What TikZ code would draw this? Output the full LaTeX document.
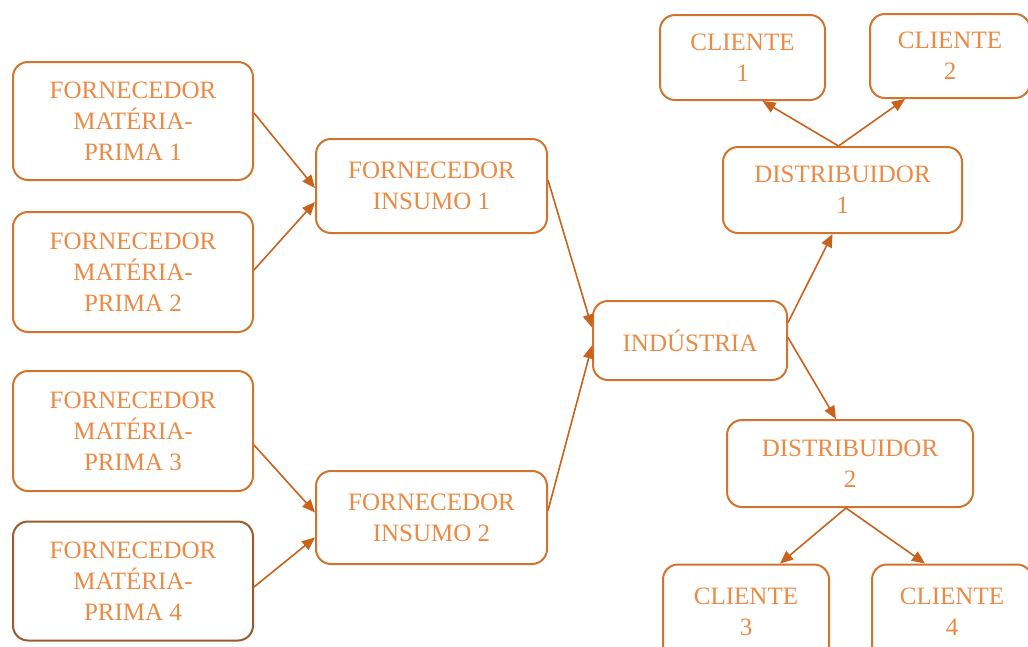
\documentclass[tikz,border=0pt]{standalone}
\usepackage{fontspec}
\setmainfont{Liberation Serif}
\usetikzlibrary{arrows.meta, positioning}

\definecolor{borda}{HTML}{D2742E}
\definecolor{bordaescura}{HTML}{9A5B30}
\definecolor{texto}{HTML}{EA8A44}
\definecolor{seta}{HTML}{C8621C}

\tikzset{
	caixa/.style={draw=borda, line width=2pt, rounded corners=15pt, text=texto,
		align=center, inner sep=0pt, font=\fontsize{25}{31}\selectfont},
	fluxo/.style={draw=seta, line width=1.6pt, -{Triangle[length=13pt,width=11pt]}}
}

\begin{document}
\begin{tikzpicture}[x=1pt, y=-1pt]
		\useasboundingbox (0,0) rectangle (1028,646);

		% Fornecedores de materia-prima
		\node[caixa, minimum width=240, minimum height=118] (fmp1) at (133,121) {FORNECEDOR\\MATÉRIA-\\PRIMA 1};
		\node[caixa, minimum width=240, minimum height=120] (fmp2) at (133,272) {FORNECEDOR\\MATÉRIA-\\PRIMA 2};
		\node[caixa, minimum width=240, minimum height=120] (fmp3) at (133,431) {FORNECEDOR\\MATÉRIA-\\PRIMA 3};
		\node[caixa, draw=bordaescura, minimum width=240, minimum height=119] (fmp4) at (133,581) {FORNECEDOR\\MATÉRIA-\\PRIMA 4};

		% Fornecedores de insumo
		\node[caixa, minimum width=231, minimum height=94] (fi1) at (431.5,186) {FORNECEDOR\\INSUMO 1};
		\node[caixa, minimum width=231, minimum height=93] (fi2) at (431.5,517.5) {FORNECEDOR\\INSUMO 2};

		\node[caixa, minimum width=194, minimum height=79] (ind) at (690,340.5) {INDÚSTRIA};

		% Distribuidores e clientes
		\node[caixa, minimum width=239, minimum height=86] (dist1) at (842.5,190) {DISTRIBUIDOR\\1};
		\node[caixa, minimum width=246, minimum height=87] (dist2) at (850,463.5) {DISTRIBUIDOR\\2};
		\node[caixa, minimum width=165, minimum height=85] (cl1) at (742.5,57.5) {CLIENTE\\1};
		\node[caixa, minimum width=160, minimum height=84] (cl2) at (950,56) {CLIENTE\\2};
		\node[caixa, minimum width=166, minimum height=95] (cl3) at (746,612) {CLIENTE\\3};
		\node[caixa, minimum width=160, minimum height=95] (cl4) at (952,612) {CLIENTE\\4};

		\draw[fluxo] ([yshift=8]fmp1.east) -- ([yshift=-2]fi1.west);
		\draw[fluxo] ([yshift=2]fmp2.east) -- ([yshift=-16]fi1.west);
		\draw[fluxo] ([yshift=-14]fmp3.east) -- ([yshift=5]fi2.west);
		\draw[fluxo] ([yshift=-6]fmp4.east) -- ([yshift=-20]fi2.west);

		\draw[fluxo] ([yshift=6]fi1.east) -- ([yshift=13]ind.west);
		\draw[fluxo] ([yshift=7]fi2.east) -- ([yshift=-5]ind.west);

		\draw[fluxo] ([yshift=18]ind.east) -- ([xshift=-10]dist1.south);
		\draw[fluxo] ([yshift=3]ind.east) -- ([xshift=-14]dist2.north);

		\draw[fluxo] ([xshift=-4]dist1.north) -- ([xshift=20]cl1.south);
		\draw[fluxo] ([xshift=-4]dist1.north) -- ([xshift=-45]cl2.south);
		\draw[fluxo] ([xshift=-4]dist2.south) -- ([xshift=34]cl3.north);
		\draw[fluxo] ([xshift=-4]dist2.south) -- ([xshift=-27]cl4.north);
	  \end{tikzpicture}
\end{document}
